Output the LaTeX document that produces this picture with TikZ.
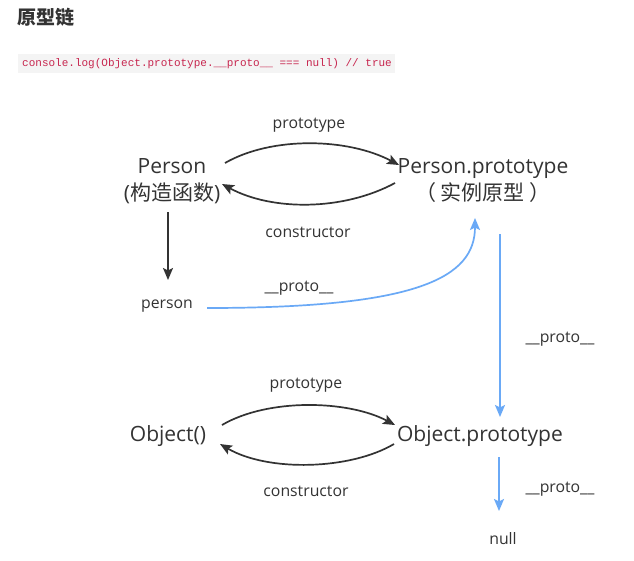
\documentclass[tikz,border=0pt]{standalone}
\usepackage{fontspec}
\setmainfont{Open Sans}
\setmonofont{Liberation Mono}
\newfontfamily\cjk{Noto Sans CJK SC}
\usetikzlibrary{arrows.meta,calc}
\definecolor{ink}{HTML}{333333}
\definecolor{linkblue}{HTML}{6AA9F6}
\definecolor{codered}{HTML}{C7254E}
\definecolor{codebg}{HTML}{F4F4F4}
\tikzset{
  big/.style={font=\fontsize{21}{27}\selectfont, text=ink, inner sep=0pt, align=center},
  lbl/.style={font=\fontsize{15.8}{19}\selectfont, text=ink, inner sep=0pt},
  blk/.style={draw=ink, line width=1.7pt, -{Stealth[length=12pt,width=10pt,inset=2.5pt]}},
  blu/.style={draw=linkblue, line width=1.7pt, -{Stealth[length=12pt,width=10pt,inset=2.5pt]}},
}
\begin{document}
\begin{tikzpicture}[x=1pt,y=-1pt]
\useasboundingbox (0,0) rectangle (634,560);
\fill[white] (0,0) rectangle (634,560);
% title
\node[anchor=west, inner sep=0pt, text=ink, font=\cjk\bfseries\fontsize{19}{22}\selectfont] (title) at (17,17) {原型链};
% code
\fill[codebg] (18,54) rectangle (395,73);
\node[anchor=west, inner sep=0pt, text=codered, font=\ttfamily\fontsize{11}{13}\selectfont] (code) at (22,63.5) {console.log(Object.prototype.\_\_proto\_\_ === null) // true};
% nodes
\node[big] (P) at (172,181) {Person\\({\cjk 构造函数})};
\node[big] (PP) at (483,181) {Person.prototype\\{\cjk （ 实例原型 ）}};
\node[lbl] (person) at (167,306) {person};
\node[big] (O) at (168,436) {Object()};
\node[big] (OP) at (480,436) {Object.prototype};
\node[lbl] (null) at (503,539) {null};
% labels
\node[lbl] (l1) at (309,125) {prototype};
\node[lbl] (l2) at (308,232) {constructor};
\node[lbl] (l3) at (299,288) {\_\_proto\_\_};
\node[lbl] (l4) at (560,339) {\_\_proto\_\_};
\node[lbl] (l5) at (306,385) {prototype};
\node[lbl] (l6) at (306,491) {constructor};
\node[lbl] (l7) at (560,489) {\_\_proto\_\_};
% black arrows
\draw[blk] ($(P.center)+(53,-18)$) .. controls ($(P.center)+(100,-45)$) and ($(PP.center)+(-135,-43)$) .. ($(PP.center)+(-84,-16)$);
\draw[blk] ($(PP.center)+(-88,2)$) .. controls ($(PP.center)+(-140,30)$) and ($(P.center)+(100,30)$) .. ($(P.center)+(50,3)$);
\draw[blk] ($(P.center)+(-4,31)$) -- ($(person.center)+(1,-26)$);
\draw[blk] ($(O.center)+(54,-11)$) .. controls ($(O.center)+(100,-38)$) and ($(OP.center)+(-132,-36)$) .. ($(OP.center)+(-85,-11)$);
\draw[blk] ($(OP.center)+(-86,8)$) .. controls ($(OP.center)+(-130,34)$) and ($(O.center)+(100,36)$) .. ($(O.center)+(52,8)$);
% blue arrows
\draw[blu] ($(person.center)+(40,2)$) .. controls ($(person.center)+(250,2)$) and ($(PP.center)+(-8,97)$) .. ($(PP.center)+(-8,37)$);
\draw[blu] ($(PP.center)+(17,53)$) -- ($(OP.center)+(20,-19)$);
\draw[blu] ($(OP.center)+(19,21)$) -- ($(null.center)+(-4,-28)$);
\end{tikzpicture}
\end{document}
